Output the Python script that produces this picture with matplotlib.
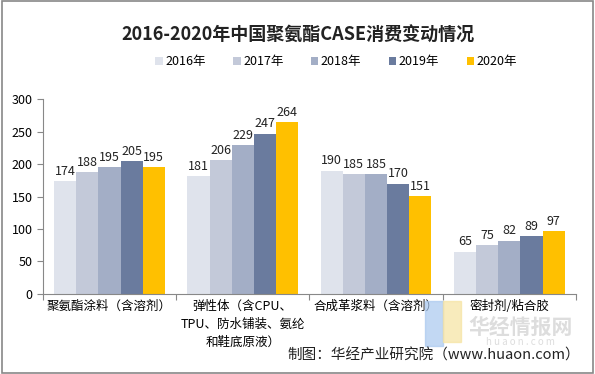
import matplotlib.pyplot as plt
import numpy as np
from matplotlib.patches import Rectangle

plt.rcParams['font.family'] = ['Noto Sans CJK SC', 'DejaVu Sans']

categories = ['聚氨酯涂料（含溶剂）', '弹性体（含CPU、\nTPU、防水铺装、氨纶\n和鞋底原液）',
              '合成革浆料（含溶剂）', '密封剂/粘合胶']
years = ['2016年', '2017年', '2018年', '2019年', '2020年']
v2016 = [174, 181, 190, 65]
v2017 = [188, 206, 185, 75]
v2018 = [195, 229, 185, 82]
v2019 = [205, 247, 170, 89]
v2020 = [195, 264, 151, 97]
colors = ['#dfe3ec', '#c3c9d9', '#a3aec6', '#6a7b9e', '#ffc000']

fig = plt.figure(figsize=(5.95, 3.74), dpi=100)
ax = fig.add_axes([0.072, 0.214, 0.896, 0.521])

x = np.arange(len(categories))
w = 0.166
series = [v2016, v2017, v2018, v2019, v2020]
for i, vals in enumerate(series):
    pos = x + (i - 2) * w
    bars = ax.bar(pos, vals, width=w, color=colors[i], label=years[i])
    for b, v in zip(bars, vals):
        ax.text(b.get_x() + b.get_width() / 2, v + 5, str(v), ha='center', va='bottom',
                fontsize=9, color='#222222')

ax.set_xlim(-0.5, len(categories) - 0.5)
ax.set_ylim(0, 300)
ax.set_yticks(range(0, 301, 50))
ax.set_xticks(np.arange(-0.5, len(categories), 1.0))
ax.set_xticklabels([])
ax.set_xticks(x, minor=True)
ax.set_xticklabels(categories, minor=True, fontsize=9, linespacing=1.5)
ax.tick_params(axis='x', which='minor', length=0, pad=4)
ax.tick_params(axis='x', which='major', length=4, color='#888888')
ax.tick_params(axis='y', length=4, color='#888888', labelsize=9)
for s in ['top', 'right']:
    ax.spines[s].set_visible(False)
for s in ['left', 'bottom']:
    ax.spines[s].set_color('#888888')

fig.text(0.5, 0.905, '2016-2020年中国聚氨酯CASE消费变动情况', ha='center', va='center',
         fontsize=13, fontweight='bold', color='#222222')
leg = fig.legend(loc='center', bbox_to_anchor=(0.565, 0.835), ncol=5, frameon=False,
                 fontsize=9, handlelength=0.6, handleheight=0.6, columnspacing=2.2,
                 handletextpad=0.2)

# watermark
fig.text(0.875, 0.125, '华经情报网', ha='center', va='center', fontsize=15,
         fontweight='bold', color='#d5d5d5', alpha=0.8)
fig.text(0.875, 0.085, 'h u a o n . c o m', ha='center', va='center', fontsize=7,
         color='#dddddd')
fig.patches.append(Rectangle((0.715, 0.075), 0.03, 0.12, transform=fig.transFigure,
                             color='#a9c8ee', alpha=0.7))
fig.patches.append(Rectangle((0.745, 0.085), 0.03, 0.11, transform=fig.transFigure,
                             color='#f6e3a0', alpha=0.7))

fig.text(0.975, 0.05, '制图：华经产业研究院（www.huaon.com）', ha='right', va='center',
         fontsize=10.5, color='#222222')

fig.patches.append(Rectangle((0.003, 0.004), 0.994, 0.992, transform=fig.transFigure,
                             fill=False, edgecolor='#888888', linewidth=1.2))

fig.savefig('out.png', dpi=100)
